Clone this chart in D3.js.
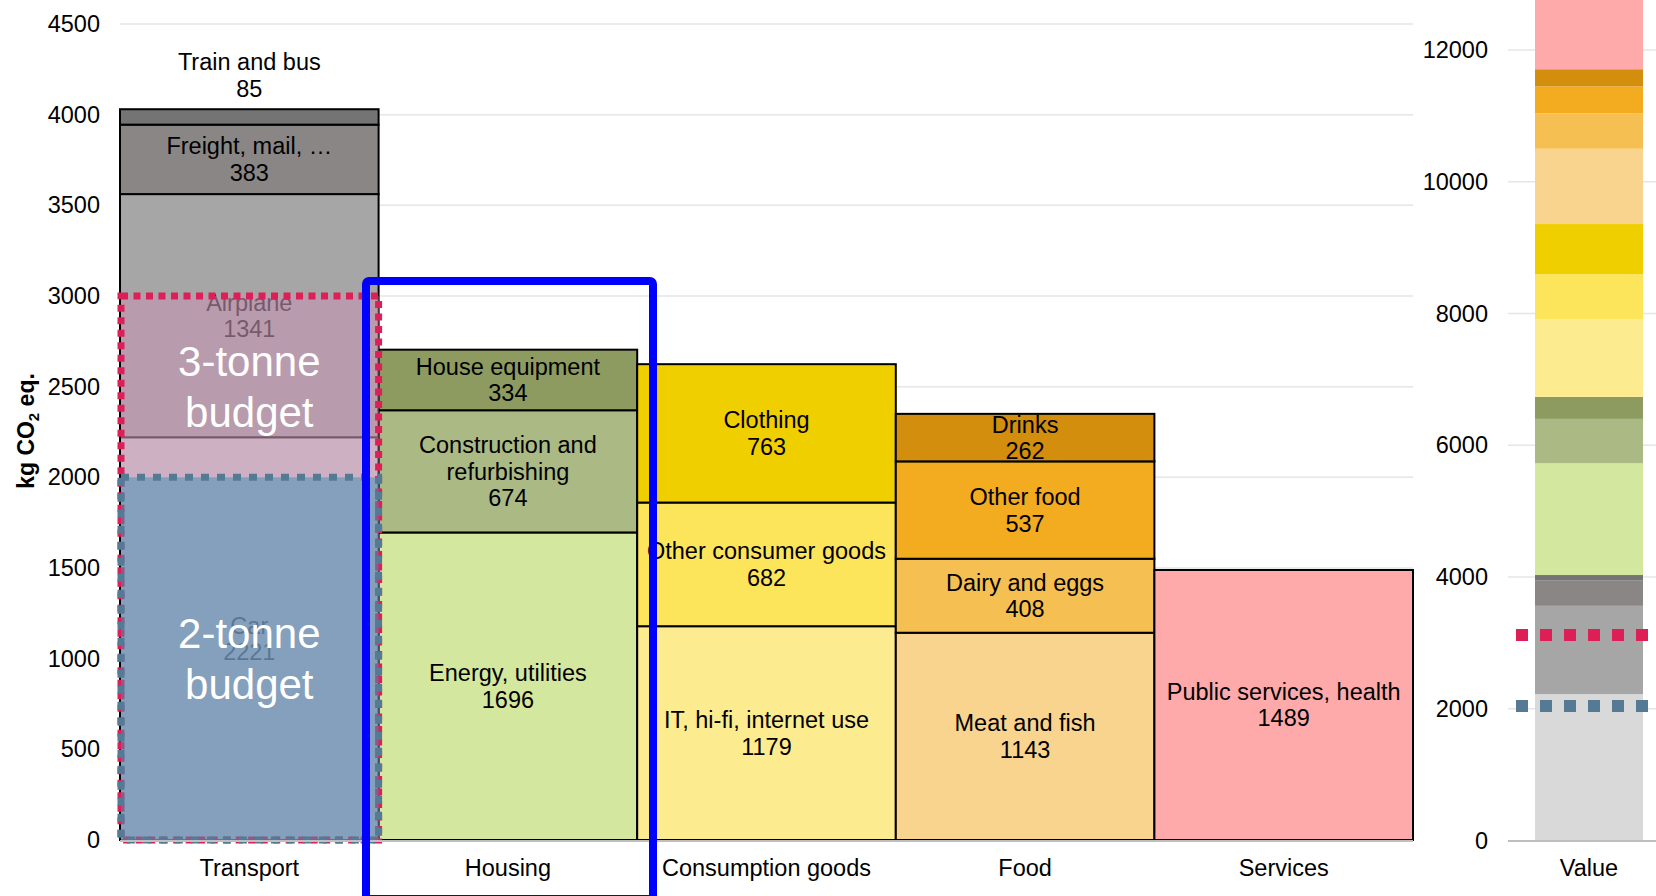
<!DOCTYPE html>
<html>
<head>
<meta charset="utf-8">
<title>Carbon footprint by category</title>
<script src="https://cdn.jsdelivr.net/npm/d3@7"></script>
<style>
  body { margin: 0; background: #fff; }
  text { font-family: "Liberation Sans", Arial, sans-serif; }
</style>
</head>
<body>
<script>
// categories on the x axis
var categories = ["Transport", "Housing", "Consumption goods", "Food", "Services"];

// stacked items, bottom to top inside each category
var itemNames = ["Car", "Airplane", "Freight, mail, \u2026", "Train and bus",
  "Energy, utilities", "Construction and\nrefurbishing", "House equipment",
  "IT, hi-fi, internet use", "Other consumer goods", "Clothing",
  "Meat and fish", "Dairy and eggs", "Other food", "Drinks",
  "Public services, health"];
var itemCategory = ["Transport", "Transport", "Transport", "Transport",
  "Housing", "Housing", "Housing",
  "Consumption goods", "Consumption goods", "Consumption goods",
  "Food", "Food", "Food", "Food",
  "Services"];
var itemValues = [2221, 1341, 383, 85, 1696, 674, 334, 1179, 682, 763, 1143, 408, 537, 262, 1489];
var itemColors = ["#d9d9d9", "#a6a6a6", "#8b8686", "#747474",
  "#d4e79e", "#abb985", "#8d9b60",
  "#fdec8f", "#fde55b", "#f0cf00",
  "#f9d48f", "#f6bf51", "#f3ab1f", "#d28e0c",
  "#fea9aa"];

// order of the items in the total column (colours follow position)
var totalOrder = [0, 1, 2, 3, 4, 5, 6, 7, 8, 9, 10, 12, 11, 13, 14];

var mainTicks = [0, 500, 1000, 1500, 2000, 2500, 3000, 3500, 4000, 4500];
var totalTicks = [0, 2000, 4000, 6000, 8000, 10000, 12000];

// budgets drawn over the transport column
var budgetNames = ["3-tonne\nbudget", "2-tonne\nbudget"];
var budgetValues = [3000, 2000];
var budgetMarks = [3120, 2040];   // where the dotted marks sit on the total column

var width = 1656, height = 896;

var svg = d3.select("body").append("svg")
  .attr("width", width).attr("height", height);

var x = d3.scaleBand().domain(categories).range([120, 1413]).padding(0);
var y = d3.scaleLinear().domain([0, 4500]).range([840, 24]);
var x2 = d3.scaleBand().domain(["Value"]).range([1535, 1643]).padding(0);
var y2 = d3.scaleLinear().domain([0, 12000]).range([840.5, 50]);

// gridlines
svg.append("g").selectAll("line").data(mainTicks.slice(1)).enter().append("line")
  .attr("x1", 120).attr("x2", 1413)
  .attr("y1", function(d) { return y(d); }).attr("y2", function(d) { return y(d); })
  .attr("stroke", "#e6e6e6").attr("stroke-width", 1.5);
svg.append("g").selectAll("line").data(totalTicks.slice(1)).enter().append("line")
  .attr("x1", 1508).attr("x2", 1656)
  .attr("y1", function(d) { return y2(d); }).attr("y2", function(d) { return y2(d); })
  .attr("stroke", "#e6e6e6").attr("stroke-width", 1.5);

// axes (labels only, Excel style)
var yAxis = svg.append("g").attr("transform", "translate(100,0)")
  .call(d3.axisLeft(y).tickValues(mainTicks).tickSize(0).tickPadding(0).tickFormat(d3.format("d")));
var y2Axis = svg.append("g").attr("transform", "translate(1488,0)")
  .call(d3.axisLeft(y2).tickValues(totalTicks).tickSize(0).tickPadding(0).tickFormat(d3.format("d")));
var xAxis = svg.append("g").attr("transform", "translate(0,840)")
  .call(d3.axisBottom(x).tickSize(0).tickPadding(19));
var x2Axis = svg.append("g").attr("transform", "translate(0,840)")
  .call(d3.axisBottom(x2).tickSize(0).tickPadding(19));
[yAxis, y2Axis, xAxis, x2Axis].forEach(function(a) {
  a.select(".domain").remove();
  a.selectAll("text").style("font-size", "23.5px").attr("fill", "#000")
    .style("font-family", "'Liberation Sans', Arial, sans-serif");
});

// stack the items per category
var segs = [];
var base = {};
itemNames.forEach(function(n, i) {
  var c = itemCategory[i];
  var b = base[c] || 0;
  segs.push({name: n, cat: c, value: itemValues[i], y0: b, y1: b + itemValues[i], color: itemColors[i]});
  base[c] = b + itemValues[i];
});

svg.append("g").selectAll("rect").data(segs).enter().append("rect")
  .attr("x", function(d) { return x(d.cat); })
  .attr("width", x.bandwidth())
  .attr("y", function(d) { return y(d.y1); })
  .attr("height", function(d) { return y(d.y0) - y(d.y1); })
  .attr("fill", function(d) { return d.color; })
  .attr("stroke", "#000").attr("stroke-width", 2);

// segment labels
var lineH = 26.5;
svg.append("g").selectAll("text").data(segs).enter().append("text")
  .attr("text-anchor", "middle")
  .style("font-size", "23.5px")
  .attr("fill", "#000")
  .each(function(d) {
    var lines = d.name.split("\n").concat([String(d.value)]);
    var h = y(d.y0) - y(d.y1);
    var cy = (y(d.y0) + y(d.y1)) / 2;
    if (h < 40) cy = y(d.y1) - 34;   // too thin: put it above the column
    var t = d3.select(this);
    lines.forEach(function(l, k) {
      t.append("tspan")
        .attr("x", x(d.cat) + x.bandwidth() / 2)
        .attr("y", cy + (k - (lines.length - 1) / 2) * lineH)
        .attr("dy", "0.35em")
        .text(l);
    });
  });

// budget boxes over transport
var overlayFill = ["rgba(196,148,179,0.6)", "rgba(66,145,184,0.52)"];
var overlayStroke = ["#dc1f56", "#557a96"];
var overlayDash = ["7 5.5", "8 8"];
budgetValues.forEach(function(v, i) {
  svg.append("rect")
    .attr("x", x("Transport") + 1)
    .attr("width", x.bandwidth() - 1)
    .attr("y", y(v))
    .attr("height", y(0) - y(v))
    .attr("fill", overlayFill[i])
    .attr("stroke", overlayStroke[i])
    .attr("stroke-width", 7)
    .attr("stroke-dasharray", overlayDash[i]);
});
budgetValues.forEach(function(v, i) {
  var top = y(v);
  var bottom = i + 1 < budgetValues.length ? y(budgetValues[i + 1]) : y(0);
  var cy = (top + bottom) / 2;
  var lines = budgetNames[i].split("\n");
  var t = svg.append("text").attr("text-anchor", "middle")
    .style("font-size", "42px").attr("fill", "#fff");
  lines.forEach(function(l, k) {
    t.append("tspan")
      .attr("x", x("Transport") + x.bandwidth() / 2)
      .attr("y", cy + (k - (lines.length - 1) / 2) * 50.5)
      .attr("dy", "0.35em")
      .text(l);
  });
});

// total column on the right
var tot = [];
var acc = 0;
totalOrder.forEach(function(idx, i) {
  tot.push({y0: acc, y1: acc + itemValues[idx], color: itemColors[i]});
  acc += itemValues[idx];
});
svg.append("g").selectAll("rect").data(tot).enter().append("rect")
  .attr("x", x2("Value"))
  .attr("width", x2.bandwidth())
  .attr("y", function(d) { return y2(d.y1); })
  .attr("height", function(d) { return y2(d.y0) - y2(d.y1); })
  .attr("fill", function(d) { return d.color; });

svg.append("g").selectAll("line").data(budgetMarks).enter().append("line")
  .attr("x1", 1516).attr("x2", 1650)
  .attr("y1", function(d) { return y2(d); }).attr("y2", function(d) { return y2(d); })
  .attr("stroke", function(d, i) { return overlayStroke[i]; })
  .attr("stroke-width", 12)
  .attr("stroke-dasharray", "12 12");

// baselines
svg.append("line").attr("x1", 120).attr("x2", 1413).attr("y1", 841).attr("y2", 841)
  .attr("stroke", "#bfbfbf").attr("stroke-width", 2);
svg.append("line").attr("x1", 1508).attr("x2", 1656).attr("y1", 841).attr("y2", 841)
  .attr("stroke", "#bfbfbf").attr("stroke-width", 2);

// y title
var yt = svg.append("text")
  .attr("transform", "translate(34,431) rotate(-90)")
  .attr("text-anchor", "middle")
  .style("font-size", "23px").style("font-weight", "bold");
yt.append("tspan").text("kg CO");
yt.append("tspan").attr("dy", 5).style("font-size", "15px").text("2");
yt.append("tspan").attr("dy", -5).text(" eq.");

// highlight around housing
svg.append("rect")
  .attr("x", 366).attr("y", 281)
  .attr("width", 287).attr("height", 618)
  .attr("rx", 3)
  .attr("fill", "none")
  .attr("stroke", "#0000ff")
  .attr("stroke-width", 8);
</script>
</body>
</html>
